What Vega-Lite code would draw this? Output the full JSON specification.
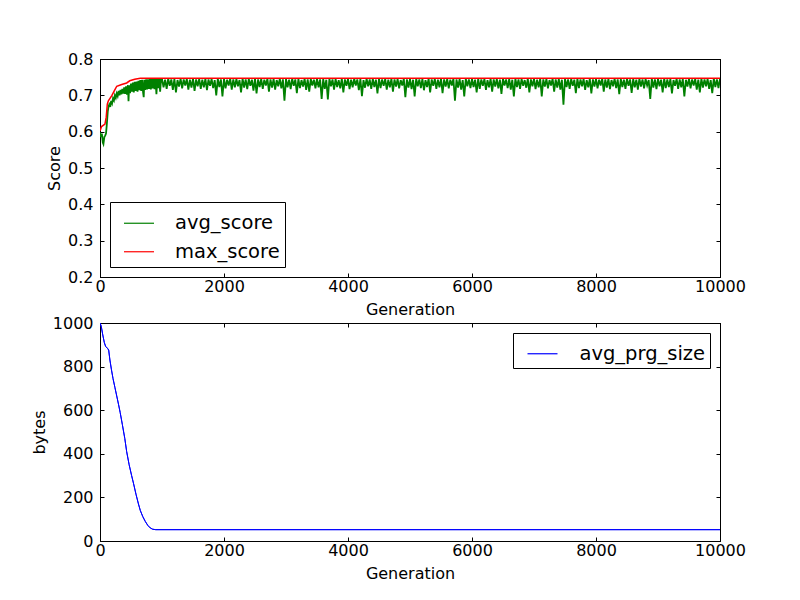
{
  "$schema": "https://vega.github.io/schema/vega-lite/v6.json",
  "description": "Score and program size per generation.",
  "padding": {"left": 30, "top": 50, "right": 0, "bottom": 0},
  "background": "white",
  "config": {
    "font": "DejaVu Sans",
    "view": {"stroke": "black", "strokeWidth": 1},
    "axis": {
      "labelFont": "DejaVu Sans", "labelFontSize": 16, "labelColor": "black",
      "titleFont": "DejaVu Sans", "titleFontSize": 16, "titleFontWeight": "normal", "titleColor": "black",
      "domainColor": "black", "domainWidth": 1, "tickColor": "black", "tickSize": -4,
      "grid": false, "labelFlush": false, "labelOverlap": false
    },
    "axisX": {"labelPadding": 5, "titlePadding": 7},
    "axisY": {"labelPadding": 11, "titlePadding": 5},
    "legend": {
      "labelFont": "DejaVu Sans", "labelFontSize": 19.5, "labelColor": "black",
      "symbolType": "stroke", "symbolSize": 900, "symbolStrokeWidth": 1.2,
      "strokeColor": "black", "fillColor": "white", "padding": 5.25,
      "labelOffset": 20, "rowPadding": 2.5, "cornerRadius": 0, "symbolOffset": 7.75
    }
  },
  "datasets": {
    "avg": [
      {"g":0,"v":0.598},{"g":15,"v":0.585},{"g":30,"v":0.595},{"g":45,"v":0.57},{"g":55,"v":0.566},{"g":70,"v":0.585},{"g":85,"v":0.59},{"g":97,"v":0.595},{"g":110,"v":0.62},{"g":125,"v":0.655},
      {"g":135,"v":0.667},{"g":150,"v":0.675},{"g":165,"v":0.668},{"g":180,"v":0.685},{"g":195,"v":0.678},{"g":210,"v":0.692},{"g":225,"v":0.686},{"g":240,"v":0.7},{"g":255,"v":0.693},{"g":270,"v":0.705},
      {"g":285,"v":0.698},{"g":300,"v":0.712},{"g":315,"v":0.7},{"g":330,"v":0.715},{"g":345,"v":0.703},{"g":360,"v":0.718},{"g":375,"v":0.705},{"g":390,"v":0.722},{"g":405,"v":0.704},{"g":420,"v":0.725},
      {"g":435,"v":0.702},{"g":450,"v":0.728},{"g":460,"v":0.684},{"g":470,"v":0.728},{"g":485,"v":0.706},{"g":500,"v":0.732},{"g":515,"v":0.71},{"g":530,"v":0.735},{"g":545,"v":0.708},{"g":560,"v":0.737},
      {"g":575,"v":0.712},{"g":590,"v":0.738},{"g":605,"v":0.71},{"g":620,"v":0.74},{"g":635,"v":0.714},{"g":650,"v":0.742},{"g":665,"v":0.712},{"g":680,"v":0.743},{"g":695,"v":0.708},{"g":705,"v":0.695},
      {"g":715,"v":0.743},{"g":730,"v":0.715},{"g":745,"v":0.744},{"g":760,"v":0.716},{"g":775,"v":0.744},{"g":790,"v":0.718},{"g":805,"v":0.745},{"g":820,"v":0.716},{"g":835,"v":0.745},{"g":850,"v":0.719},
      {"g":865,"v":0.745},{"g":880,"v":0.717},{"g":895,"v":0.745},{"g":910,"v":0.703},{"g":925,"v":0.745},{"g":940,"v":0.72},{"g":955,"v":0.745},{"g":970,"v":0.71},{"g":985,"v":0.745},
      {"g":1000,"v":0.745},{"g":1025,"v":0.722},{"g":1050,"v":0.743},{"g":1075,"v":0.718},{"g":1100,"v":0.746},{"g":1125,"v":0.726},{"g":1150,"v":0.744},{"g":1175,"v":0.715},{"g":1200,"v":0.745},{"g":1225,"v":0.708},
      {"g":1250,"v":0.742},{"g":1275,"v":0.724},{"g":1300,"v":0.746},{"g":1325,"v":0.719},{"g":1350,"v":0.744},{"g":1375,"v":0.727},{"g":1400,"v":0.745},{"g":1425,"v":0.716},{"g":1450,"v":0.743},{"g":1475,"v":0.721},
      {"g":1500,"v":0.746},{"g":1525,"v":0.712},{"g":1550,"v":0.744},{"g":1575,"v":0.725},{"g":1600,"v":0.745},{"g":1625,"v":0.718},{"g":1650,"v":0.743},{"g":1675,"v":0.722},{"g":1700,"v":0.746},{"g":1725,"v":0.714},
      {"g":1750,"v":0.744},{"g":1775,"v":0.726},{"g":1800,"v":0.745},{"g":1825,"v":0.72},{"g":1850,"v":0.742},{"g":1875,"v":0.7},{"g":1900,"v":0.746},{"g":1925,"v":0.723},{"g":1950,"v":0.744},{"g":1975,"v":0.697},
      {"g":2000,"v":0.745},{"g":2025,"v":0.719},{"g":2050,"v":0.743},{"g":2075,"v":0.727},{"g":2100,"v":0.746},{"g":2125,"v":0.716},{"g":2150,"v":0.744},{"g":2175,"v":0.722},{"g":2200,"v":0.745},{"g":2225,"v":0.725},
      {"g":2250,"v":0.742},{"g":2275,"v":0.708},{"g":2300,"v":0.746},{"g":2325,"v":0.721},{"g":2350,"v":0.744},{"g":2375,"v":0.717},{"g":2400,"v":0.745},{"g":2425,"v":0.726},{"g":2450,"v":0.743},{"g":2475,"v":0.713},
      {"g":2500,"v":0.746},{"g":2525,"v":0.705},{"g":2550,"v":0.744},{"g":2575,"v":0.723},{"g":2600,"v":0.745},{"g":2625,"v":0.718},{"g":2650,"v":0.743},{"g":2675,"v":0.727},{"g":2700,"v":0.746},{"g":2725,"v":0.71},
      {"g":2750,"v":0.744},{"g":2775,"v":0.721},{"g":2800,"v":0.745},{"g":2825,"v":0.716},{"g":2850,"v":0.742},{"g":2875,"v":0.725},{"g":2900,"v":0.746},{"g":2925,"v":0.719},{"g":2950,"v":0.744},{"g":2975,"v":0.685},
      {"g":3000,"v":0.745},{"g":3025,"v":0.722},{"g":3050,"v":0.743},{"g":3075,"v":0.717},{"g":3100,"v":0.746},{"g":3125,"v":0.726},{"g":3150,"v":0.744},{"g":3175,"v":0.706},{"g":3200,"v":0.745},{"g":3225,"v":0.72},
      {"g":3250,"v":0.742},{"g":3275,"v":0.724},{"g":3300,"v":0.746},{"g":3325,"v":0.715},{"g":3350,"v":0.744},{"g":3375,"v":0.71},{"g":3400,"v":0.745},{"g":3425,"v":0.727},{"g":3450,"v":0.743},{"g":3475,"v":0.719},
      {"g":3500,"v":0.746},{"g":3525,"v":0.722},{"g":3550,"v":0.744},{"g":3575,"v":0.69},{"g":3600,"v":0.745},{"g":3625,"v":0.718},{"g":3650,"v":0.743},{"g":3675,"v":0.689},{"g":3700,"v":0.746},{"g":3725,"v":0.725},
      {"g":3750,"v":0.744},{"g":3775,"v":0.716},{"g":3800,"v":0.745},{"g":3825,"v":0.723},{"g":3850,"v":0.742},{"g":3875,"v":0.719},{"g":3900,"v":0.746},{"g":3925,"v":0.708},{"g":3950,"v":0.744},{"g":3975,"v":0.726},
      {"g":4000,"v":0.745},{"g":4025,"v":0.717},{"g":4050,"v":0.743},{"g":4075,"v":0.722},{"g":4100,"v":0.746},{"g":4125,"v":0.727},{"g":4150,"v":0.744},{"g":4175,"v":0.714},{"g":4200,"v":0.745},{"g":4225,"v":0.698},
      {"g":4250,"v":0.742},{"g":4275,"v":0.721},{"g":4300,"v":0.746},{"g":4325,"v":0.725},{"g":4350,"v":0.744},{"g":4375,"v":0.718},{"g":4400,"v":0.745},{"g":4425,"v":0.723},{"g":4450,"v":0.743},{"g":4475,"v":0.705},
      {"g":4500,"v":0.746},{"g":4525,"v":0.72},{"g":4550,"v":0.744},{"g":4575,"v":0.726},{"g":4600,"v":0.745},{"g":4625,"v":0.716},{"g":4650,"v":0.743},{"g":4675,"v":0.722},{"g":4700,"v":0.746},{"g":4725,"v":0.71},
      {"g":4750,"v":0.744},{"g":4775,"v":0.724},{"g":4800,"v":0.745},{"g":4825,"v":0.719},{"g":4850,"v":0.742},{"g":4875,"v":0.727},{"g":4900,"v":0.746},{"g":4925,"v":0.695},{"g":4950,"v":0.744},{"g":4975,"v":0.721},
      {"g":5000,"v":0.745},{"g":5025,"v":0.717},{"g":5050,"v":0.743},{"g":5075,"v":0.697},{"g":5100,"v":0.746},{"g":5125,"v":0.725},{"g":5150,"v":0.744},{"g":5175,"v":0.72},{"g":5200,"v":0.745},{"g":5225,"v":0.714},
      {"g":5250,"v":0.742},{"g":5275,"v":0.723},{"g":5300,"v":0.746},{"g":5325,"v":0.708},{"g":5350,"v":0.744},{"g":5375,"v":0.726},{"g":5400,"v":0.745},{"g":5425,"v":0.718},{"g":5450,"v":0.743},{"g":5475,"v":0.722},
      {"g":5500,"v":0.746},{"g":5525,"v":0.706},{"g":5550,"v":0.744},{"g":5575,"v":0.724},{"g":5600,"v":0.745},{"g":5625,"v":0.719},{"g":5650,"v":0.743},{"g":5675,"v":0.727},{"g":5700,"v":0.746},{"g":5725,"v":0.685},
      {"g":5750,"v":0.744},{"g":5775,"v":0.721},{"g":5800,"v":0.745},{"g":5825,"v":0.716},{"g":5850,"v":0.742},{"g":5875,"v":0.697},{"g":5900,"v":0.746},{"g":5925,"v":0.725},{"g":5950,"v":0.744},{"g":5975,"v":0.72},
      {"g":6000,"v":0.745},{"g":6025,"v":0.723},{"g":6050,"v":0.743},{"g":6075,"v":0.708},{"g":6100,"v":0.746},{"g":6125,"v":0.718},{"g":6150,"v":0.744},{"g":6175,"v":0.726},{"g":6200,"v":0.745},{"g":6225,"v":0.715},
      {"g":6250,"v":0.742},{"g":6275,"v":0.722},{"g":6300,"v":0.746},{"g":6325,"v":0.71},{"g":6350,"v":0.744},{"g":6375,"v":0.724},{"g":6400,"v":0.745},{"g":6425,"v":0.719},{"g":6450,"v":0.743},{"g":6475,"v":0.704},
      {"g":6500,"v":0.746},{"g":6525,"v":0.727},{"g":6550,"v":0.744},{"g":6575,"v":0.72},{"g":6600,"v":0.745},{"g":6625,"v":0.716},{"g":6650,"v":0.743},{"g":6675,"v":0.697},{"g":6700,"v":0.746},{"g":6725,"v":0.723},
      {"g":6750,"v":0.744},{"g":6775,"v":0.718},{"g":6800,"v":0.745},{"g":6825,"v":0.726},{"g":6850,"v":0.742},{"g":6875,"v":0.721},{"g":6900,"v":0.746},{"g":6925,"v":0.708},{"g":6950,"v":0.744},{"g":6975,"v":0.725},
      {"g":7000,"v":0.745},{"g":7025,"v":0.717},{"g":7050,"v":0.743},{"g":7075,"v":0.722},{"g":7100,"v":0.746},{"g":7125,"v":0.697},{"g":7150,"v":0.744},{"g":7175,"v":0.724},{"g":7200,"v":0.745},{"g":7225,"v":0.719},
      {"g":7250,"v":0.742},{"g":7275,"v":0.727},{"g":7300,"v":0.746},{"g":7325,"v":0.71},{"g":7350,"v":0.744},{"g":7375,"v":0.721},{"g":7400,"v":0.745},{"g":7425,"v":0.716},{"g":7450,"v":0.743},{"g":7475,"v":0.674},
      {"g":7500,"v":0.746},{"g":7525,"v":0.723},{"g":7550,"v":0.744},{"g":7575,"v":0.718},{"g":7600,"v":0.745},{"g":7625,"v":0.726},{"g":7650,"v":0.743},{"g":7675,"v":0.706},{"g":7700,"v":0.746},{"g":7725,"v":0.72},
      {"g":7750,"v":0.744},{"g":7775,"v":0.725},{"g":7800,"v":0.745},{"g":7825,"v":0.715},{"g":7850,"v":0.742},{"g":7875,"v":0.722},{"g":7900,"v":0.746},{"g":7925,"v":0.705},{"g":7950,"v":0.744},{"g":7975,"v":0.724},
      {"g":8000,"v":0.745},{"g":8025,"v":0.719},{"g":8050,"v":0.743},{"g":8075,"v":0.727},{"g":8100,"v":0.746},{"g":8125,"v":0.71},{"g":8150,"v":0.744},{"g":8175,"v":0.721},{"g":8200,"v":0.745},{"g":8225,"v":0.717},
      {"g":8250,"v":0.742},{"g":8275,"v":0.725},{"g":8300,"v":0.746},{"g":8325,"v":0.72},{"g":8350,"v":0.744},{"g":8375,"v":0.703},{"g":8400,"v":0.745},{"g":8425,"v":0.723},{"g":8450,"v":0.743},{"g":8475,"v":0.718},
      {"g":8500,"v":0.746},{"g":8525,"v":0.726},{"g":8550,"v":0.744},{"g":8575,"v":0.707},{"g":8600,"v":0.745},{"g":8625,"v":0.722},{"g":8650,"v":0.743},{"g":8675,"v":0.716},{"g":8700,"v":0.746},{"g":8725,"v":0.724},
      {"g":8750,"v":0.744},{"g":8775,"v":0.719},{"g":8800,"v":0.745},{"g":8825,"v":0.727},{"g":8850,"v":0.742},{"g":8875,"v":0.69},{"g":8900,"v":0.746},{"g":8925,"v":0.721},{"g":8950,"v":0.744},{"g":8975,"v":0.717},
      {"g":9000,"v":0.745},{"g":9025,"v":0.725},{"g":9050,"v":0.743},{"g":9075,"v":0.708},{"g":9100,"v":0.746},{"g":9125,"v":0.72},{"g":9150,"v":0.744},{"g":9175,"v":0.723},{"g":9200,"v":0.745},{"g":9225,"v":0.705},
      {"g":9250,"v":0.742},{"g":9275,"v":0.726},{"g":9300,"v":0.746},{"g":9325,"v":0.718},{"g":9350,"v":0.744},{"g":9375,"v":0.722},{"g":9400,"v":0.745},{"g":9425,"v":0.697},{"g":9450,"v":0.743},{"g":9475,"v":0.724},
      {"g":9500,"v":0.746},{"g":9525,"v":0.719},{"g":9550,"v":0.744},{"g":9575,"v":0.727},{"g":9600,"v":0.745},{"g":9625,"v":0.716},{"g":9650,"v":0.743},{"g":9675,"v":0.708},{"g":9700,"v":0.746},{"g":9725,"v":0.721},
      {"g":9750,"v":0.744},{"g":9775,"v":0.725},{"g":9800,"v":0.745},{"g":9825,"v":0.718},{"g":9850,"v":0.742},{"g":9875,"v":0.706},{"g":9900,"v":0.746},{"g":9925,"v":0.723},{"g":9950,"v":0.744},{"g":9975,"v":0.72},
      {"g":10000,"v":0.745}
    ],
    "max": [
      {"g":0,"v":0.602},{"g":25,"v":0.614},{"g":80,"v":0.621},{"g":100,"v":0.64},{"g":118,"v":0.676},{"g":135,"v":0.685},{"g":190,"v":0.699},{"g":230,"v":0.712},
      {"g":270,"v":0.725},{"g":350,"v":0.73},{"g":430,"v":0.734},{"g":480,"v":0.74},{"g":560,"v":0.744},{"g":650,"v":0.747},{"g":10000,"v":0.747}
    ],
    "prg": [
      {"g":0,"v":1000},{"g":20,"v":985},{"g":45,"v":945},{"g":70,"v":910},{"g":90,"v":893},{"g":120,"v":884},{"g":140,"v":876},{"g":160,"v":830},
      {"g":185,"v":785},{"g":210,"v":745},{"g":240,"v":705},{"g":270,"v":665},{"g":300,"v":625},{"g":325,"v":590},{"g":360,"v":535},{"g":400,"v":470},
      {"g":430,"v":410},{"g":470,"v":350},{"g":510,"v":300},{"g":540,"v":265},{"g":580,"v":215},{"g":620,"v":170},{"g":650,"v":140},{"g":690,"v":112},
      {"g":730,"v":90},{"g":770,"v":72},{"g":810,"v":60},{"g":850,"v":54},{"g":900,"v":52},{"g":1000,"v":52},{"g":10000,"v":52}
    ]
  },
  "bounds": "flush",
  "spacing": 46,
  "resolve": {"scale": {"color": "independent"}, "legend": {"color": "independent"}},
  "vconcat": [
    {
      "width": 620,
      "height": 218,
      "layer": [
        {
          "data": {"name": "avg"},
          "mark": {"type": "line", "strokeWidth": 1.8, "clip": true},
          "encoding": {
            "x": {"field": "g", "type": "quantitative", "scale": {"domain": [0, 10000], "nice": false},
                  "axis": {"values": [0, 2000, 4000, 6000, 8000, 10000], "format": "d", "title": "Generation"}},
            "y": {"field": "v", "type": "quantitative", "scale": {"domain": [0.2, 0.8], "zero": false, "nice": false},
                  "axis": {"values": [0.2, 0.3, 0.4, 0.5, 0.6, 0.7, 0.8], "format": ".1f", "title": "Score"}},
            "color": {"datum": "avg_score", "type": "nominal",
                      "scale": {"domain": ["avg_score", "max_score"], "range": ["#008000", "#ff0000"]},
                      "legend": {"title": null, "orient": "bottom-left", "offset": 10}}
          }
        },
        {
          "data": {"name": "max"},
          "mark": {"type": "line", "strokeWidth": 1.5, "clip": true},
          "encoding": {
            "x": {"field": "g", "type": "quantitative",
                  "axis": {"orient": "top", "values": [0, 2000, 4000, 6000, 8000, 10000], "labels": false, "title": null}},
            "y": {"field": "v", "type": "quantitative",
                  "axis": {"orient": "right", "values": [0.2, 0.3, 0.4, 0.5, 0.6, 0.7, 0.8], "labels": false, "title": null}},
            "color": {"datum": "max_score", "type": "nominal"}
          }
        }
      ],
      "resolve": {"axis": {"x": "independent", "y": "independent"}}
    },
    {
      "width": 620,
      "height": 218,
      "layer": [
        {
          "data": {"name": "prg"},
          "mark": {"type": "line", "strokeWidth": 1, "clip": true},
          "encoding": {
            "x": {"field": "g", "type": "quantitative", "scale": {"domain": [0, 10000], "nice": false},
                  "axis": {"values": [0, 2000, 4000, 6000, 8000, 10000], "format": "d", "title": "Generation"}},
            "y": {"field": "v", "type": "quantitative", "scale": {"domain": [0, 1000], "nice": false},
                  "axis": {"values": [0, 200, 400, 600, 800, 1000], "format": "d", "title": "bytes"}},
            "color": {"datum": "avg_prg_size", "type": "nominal",
                      "scale": {"domain": ["avg_prg_size"], "range": ["#0000ff"]},
                      "legend": {"title": null, "orient": "top-right", "offset": 10, "padding": 4.75, "symbolOffset": 8.75, "labelOffset": 21}}
          }
        },
        {
          "data": {"name": "prg"},
          "mark": {"type": "line", "strokeWidth": 1, "color": "#0000ff", "clip": true},
          "encoding": {
            "x": {"field": "g", "type": "quantitative",
                  "axis": {"orient": "top", "values": [0, 2000, 4000, 6000, 8000, 10000], "labels": false, "title": null}},
            "y": {"field": "v", "type": "quantitative",
                  "axis": {"orient": "right", "values": [0, 200, 400, 600, 800, 1000], "labels": false, "title": null}}
          }
        }
      ],
      "resolve": {"axis": {"x": "independent", "y": "independent"}}
    }
  ]
}
